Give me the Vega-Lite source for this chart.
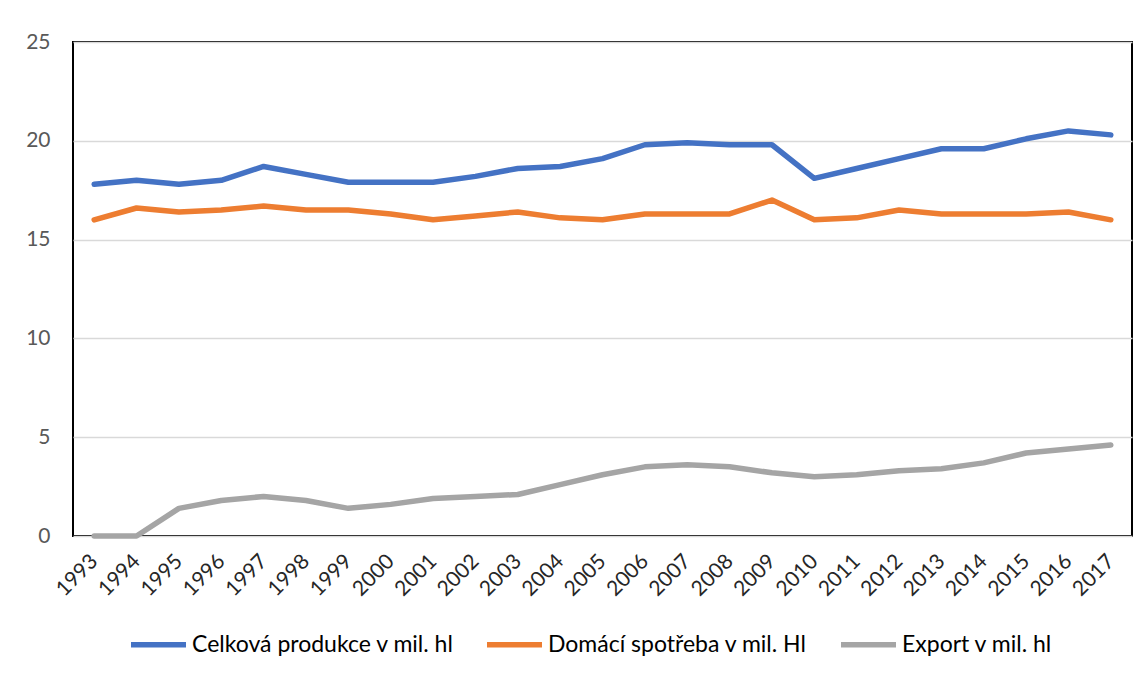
{
  "$schema": "https://vega.github.io/schema/vega-lite/v6.json",
  "autosize": {"type": "none"},
  "width": 1059,
  "height": 494,
  "padding": {"left": 73, "top": 42, "right": 16, "bottom": 141},
  "background": "white",
  "config": {
    "font": "Lato",
    "view": {"stroke": "#000000", "strokeWidth": 2}
  },
  "datasets": {
    "rows": [
      {"year": "1993", "series": "Celková produkce v mil. hl", "value": 17.8},
      {"year": "1994", "series": "Celková produkce v mil. hl", "value": 18.0},
      {"year": "1995", "series": "Celková produkce v mil. hl", "value": 17.8},
      {"year": "1996", "series": "Celková produkce v mil. hl", "value": 18.0},
      {"year": "1997", "series": "Celková produkce v mil. hl", "value": 18.7},
      {"year": "1998", "series": "Celková produkce v mil. hl", "value": 18.3},
      {"year": "1999", "series": "Celková produkce v mil. hl", "value": 17.9},
      {"year": "2000", "series": "Celková produkce v mil. hl", "value": 17.9},
      {"year": "2001", "series": "Celková produkce v mil. hl", "value": 17.9},
      {"year": "2002", "series": "Celková produkce v mil. hl", "value": 18.2},
      {"year": "2003", "series": "Celková produkce v mil. hl", "value": 18.6},
      {"year": "2004", "series": "Celková produkce v mil. hl", "value": 18.7},
      {"year": "2005", "series": "Celková produkce v mil. hl", "value": 19.1},
      {"year": "2006", "series": "Celková produkce v mil. hl", "value": 19.8},
      {"year": "2007", "series": "Celková produkce v mil. hl", "value": 19.9},
      {"year": "2008", "series": "Celková produkce v mil. hl", "value": 19.8},
      {"year": "2009", "series": "Celková produkce v mil. hl", "value": 19.8},
      {"year": "2010", "series": "Celková produkce v mil. hl", "value": 18.1},
      {"year": "2011", "series": "Celková produkce v mil. hl", "value": 18.6},
      {"year": "2012", "series": "Celková produkce v mil. hl", "value": 19.1},
      {"year": "2013", "series": "Celková produkce v mil. hl", "value": 19.6},
      {"year": "2014", "series": "Celková produkce v mil. hl", "value": 19.6},
      {"year": "2015", "series": "Celková produkce v mil. hl", "value": 20.1},
      {"year": "2016", "series": "Celková produkce v mil. hl", "value": 20.5},
      {"year": "2017", "series": "Celková produkce v mil. hl", "value": 20.3},
      {"year": "1993", "series": "Domácí spotřeba v mil. Hl", "value": 16.0},
      {"year": "1994", "series": "Domácí spotřeba v mil. Hl", "value": 16.6},
      {"year": "1995", "series": "Domácí spotřeba v mil. Hl", "value": 16.4},
      {"year": "1996", "series": "Domácí spotřeba v mil. Hl", "value": 16.5},
      {"year": "1997", "series": "Domácí spotřeba v mil. Hl", "value": 16.7},
      {"year": "1998", "series": "Domácí spotřeba v mil. Hl", "value": 16.5},
      {"year": "1999", "series": "Domácí spotřeba v mil. Hl", "value": 16.5},
      {"year": "2000", "series": "Domácí spotřeba v mil. Hl", "value": 16.3},
      {"year": "2001", "series": "Domácí spotřeba v mil. Hl", "value": 16.0},
      {"year": "2002", "series": "Domácí spotřeba v mil. Hl", "value": 16.2},
      {"year": "2003", "series": "Domácí spotřeba v mil. Hl", "value": 16.4},
      {"year": "2004", "series": "Domácí spotřeba v mil. Hl", "value": 16.1},
      {"year": "2005", "series": "Domácí spotřeba v mil. Hl", "value": 16.0},
      {"year": "2006", "series": "Domácí spotřeba v mil. Hl", "value": 16.3},
      {"year": "2007", "series": "Domácí spotřeba v mil. Hl", "value": 16.3},
      {"year": "2008", "series": "Domácí spotřeba v mil. Hl", "value": 16.3},
      {"year": "2009", "series": "Domácí spotřeba v mil. Hl", "value": 17.0},
      {"year": "2010", "series": "Domácí spotřeba v mil. Hl", "value": 16.0},
      {"year": "2011", "series": "Domácí spotřeba v mil. Hl", "value": 16.1},
      {"year": "2012", "series": "Domácí spotřeba v mil. Hl", "value": 16.5},
      {"year": "2013", "series": "Domácí spotřeba v mil. Hl", "value": 16.3},
      {"year": "2014", "series": "Domácí spotřeba v mil. Hl", "value": 16.3},
      {"year": "2015", "series": "Domácí spotřeba v mil. Hl", "value": 16.3},
      {"year": "2016", "series": "Domácí spotřeba v mil. Hl", "value": 16.4},
      {"year": "2017", "series": "Domácí spotřeba v mil. Hl", "value": 16.0},
      {"year": "1993", "series": "Export v mil. hl", "value": 0.0},
      {"year": "1994", "series": "Export v mil. hl", "value": 0.0},
      {"year": "1995", "series": "Export v mil. hl", "value": 1.4},
      {"year": "1996", "series": "Export v mil. hl", "value": 1.8},
      {"year": "1997", "series": "Export v mil. hl", "value": 2.0},
      {"year": "1998", "series": "Export v mil. hl", "value": 1.8},
      {"year": "1999", "series": "Export v mil. hl", "value": 1.4},
      {"year": "2000", "series": "Export v mil. hl", "value": 1.6},
      {"year": "2001", "series": "Export v mil. hl", "value": 1.9},
      {"year": "2002", "series": "Export v mil. hl", "value": 2.0},
      {"year": "2003", "series": "Export v mil. hl", "value": 2.1},
      {"year": "2004", "series": "Export v mil. hl", "value": 2.6},
      {"year": "2005", "series": "Export v mil. hl", "value": 3.1},
      {"year": "2006", "series": "Export v mil. hl", "value": 3.5},
      {"year": "2007", "series": "Export v mil. hl", "value": 3.6},
      {"year": "2008", "series": "Export v mil. hl", "value": 3.5},
      {"year": "2009", "series": "Export v mil. hl", "value": 3.2},
      {"year": "2010", "series": "Export v mil. hl", "value": 3.0},
      {"year": "2011", "series": "Export v mil. hl", "value": 3.1},
      {"year": "2012", "series": "Export v mil. hl", "value": 3.3},
      {"year": "2013", "series": "Export v mil. hl", "value": 3.4},
      {"year": "2014", "series": "Export v mil. hl", "value": 3.7},
      {"year": "2015", "series": "Export v mil. hl", "value": 4.2},
      {"year": "2016", "series": "Export v mil. hl", "value": 4.4},
      {"year": "2017", "series": "Export v mil. hl", "value": 4.6}
    ]
  },
  "data": {"name": "rows"},
  "mark": {"type": "line", "strokeWidth": 5.5, "strokeCap": "round", "strokeJoin": "round"},
  "encoding": {
    "x": {
      "field": "year",
      "type": "ordinal",
      "scale": {"type": "point", "padding": 0.5},
      "axis": {
        "title": null,
        "domain": false,
        "ticks": false,
        "labelAngle": -45,
        "labelAlign": "right",
        "labelBaseline": "middle",
        "labelPadding": 22,
        "labelDx": 5,
        "labelDy": 5,
        "labelFontSize": 21,
        "labelColor": "#262626"
      }
    },
    "y": {
      "field": "value",
      "type": "quantitative",
      "scale": {"domain": [0, 25], "nice": false},
      "axis": {
        "title": null,
        "values": [0, 5, 10, 15, 20, 25],
        "domain": false,
        "ticks": false,
        "labelPadding": 23,
        "labelFontSize": 21,
        "labelColor": "#595959",
        "gridColor": "#d9d9d9",
        "gridWidth": 1.5
      }
    },
    "color": {
      "field": "series",
      "type": "nominal",
      "scale": {
        "domain": ["Celková produkce v mil. hl", "Domácí spotřeba v mil. Hl", "Export v mil. hl"],
        "range": ["#4472C4", "#ED7D31", "#A5A5A5"]
      },
      "legend": {
        "title": null,
        "orient": "none",
        "direction": "horizontal",
        "legendX": 55,
        "legendY": 572,
        "symbolType": "stroke",
        "symbolSize": 3025,
        "symbolStrokeWidth": 5.5,
        "labelFontSize": 23,
        "labelColor": "#000000",
        "labelLimit": 400,
        "labelOffset": 3,
        "columnPadding": 22
      }
    }
  }
}
